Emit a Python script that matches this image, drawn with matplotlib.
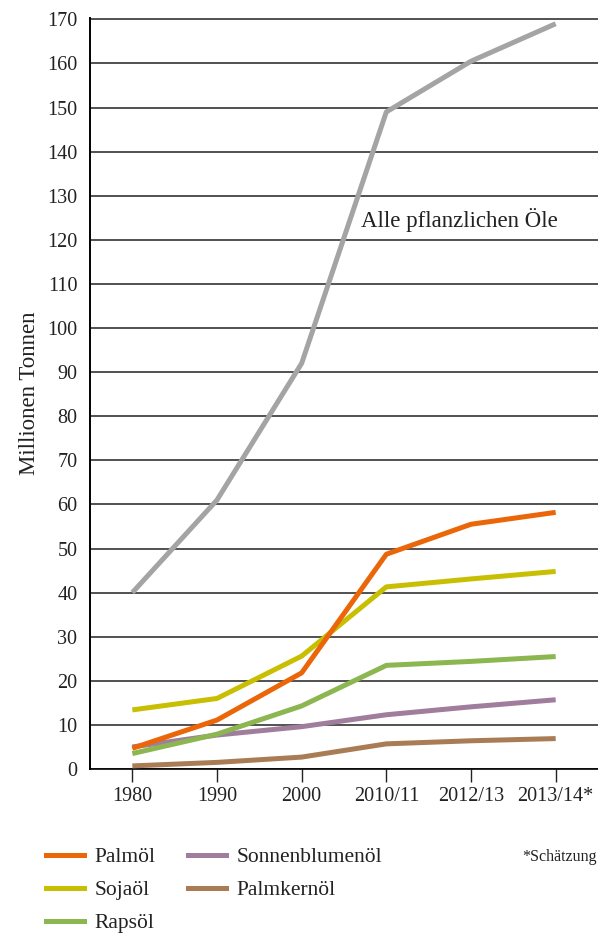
import matplotlib
matplotlib.use("Agg")
import matplotlib.pyplot as plt
import numpy as np

# ── Data ──────────────────────────────────────────────
YEARS = ["1980", "1990", "2000", "2010/11", "2012/13", "2013/14*"]
alle = [40, 61, 92, 149, 160.5, 169]
palmoel = [4.7, 11.1, 21.8, 48.7, 55.5, 58.2]
sojaoel = [13.4, 16.0, 25.6, 41.3, 43.1, 44.8]
rapsoel = [3.5, 7.9, 14.3, 23.5, 24.4, 25.5]
sonnenblumenoel = [5.0, 7.7, 9.6, 12.3, 14.1, 15.7]
palmkernoel = [0.7, 1.5, 2.7, 5.7, 6.4, 6.9]
Y_TICKS = list(range(0, 171, 10))

# ── Style ─────────────────────────────────────────────
plt.rcParams["font.family"] = ["Liberation Serif", "DejaVu Serif"]
LW = 3.6
FS = 14.5
TXT = "#222222"
COL = {
    "alle": "#A4A4A4",
    "palm": "#EA6608",
    "soja": "#C9BF02",
    "raps": "#8BB650",
    "sonne": "#A07D9C",
    "kern": "#A97C55",
}

fig = plt.figure(figsize=(5.98, 9.33), dpi=100)
ax = fig.add_axes([90 / 598, 1 - 769 / 933, 1 - 90 / 598, (769 - 18) / 933])

x = np.arange(len(YEARS))
ax.plot(x, palmkernoel, color=COL["kern"], lw=LW, solid_capstyle="butt", zorder=3)
ax.plot(x, sonnenblumenoel, color=COL["sonne"], lw=LW, solid_capstyle="butt", zorder=3)
ax.plot(x, rapsoel, color=COL["raps"], lw=LW, solid_capstyle="butt", zorder=3)
ax.plot(x, sojaoel, color=COL["soja"], lw=LW, solid_capstyle="butt", zorder=3)
ax.plot(x, palmoel, color=COL["palm"], lw=LW, solid_capstyle="butt", zorder=3)
ax.plot(x, alle, color=COL["alle"], lw=LW, solid_capstyle="butt", zorder=3)

ax.text(2.7, 124.5, "Alle pflanzlichen Öle", fontsize=16.5, ha="left", va="center",
        color=TXT)

ax.set_xlim(-0.5, len(YEARS) - 0.5)
ax.set_ylim(0, 170.3)
ax.set_yticks(Y_TICKS)
ax.set_yticklabels([str(v) for v in Y_TICKS], fontsize=FS)
ax.set_xticks(x)
ax.set_xticklabels(YEARS, fontsize=FS)
ax.tick_params(axis="y", length=0, pad=9, colors=TXT)
ax.tick_params(axis="x", length=9, width=1, direction="out", pad=4, colors=TXT)
ax.yaxis.grid(True, color=TXT, linewidth=1.1)
ax.set_axisbelow(True)
for s in ["top", "right"]:
    ax.spines[s].set_visible(False)
ax.spines["left"].set_linewidth(1.4)
ax.spines["bottom"].set_linewidth(1.2)
ax.set_ylabel("Millionen Tonnen", fontsize=16.5, labelpad=5, color=TXT)

handles = [
    plt.Line2D([], [], color=COL["palm"], lw=LW),
    plt.Line2D([], [], color=COL["soja"], lw=LW),
    plt.Line2D([], [], color=COL["raps"], lw=LW),
    plt.Line2D([], [], color=COL["sonne"], lw=LW),
    plt.Line2D([], [], color=COL["kern"], lw=LW),
]
labels = ["Palmöl", "Sojaöl", "Rapsöl", "Sonnenblumenöl", "Palmkernöl"]
fig.legend(handles, labels, ncol=2, loc="upper left",
           bbox_to_anchor=(27 / 598, 1 - 828 / 933), frameon=False, fontsize=15.5,
           handlelength=1.75, handletextpad=0.5, columnspacing=1.5, labelspacing=0.6,
           labelcolor=TXT)

fig.text(597 / 598, 1 - 857 / 933, "*Schätzung", fontsize=11.5, ha="right", va="center",
         color=TXT)

plt.savefig("out.png", dpi=100)
